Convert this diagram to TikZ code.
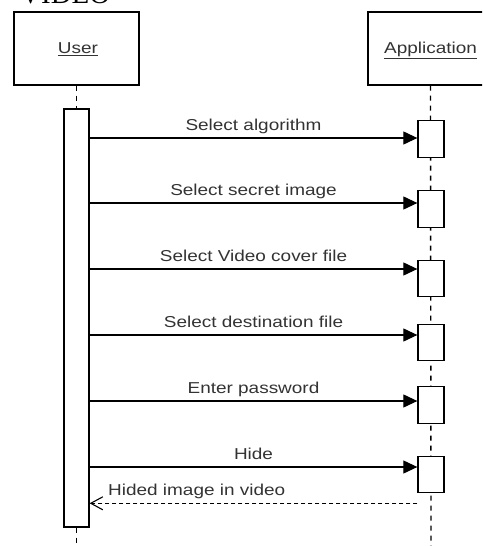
\documentclass[tikz,border=0pt]{standalone}
\usepackage{fontspec}
\usetikzlibrary{arrows.meta}
\newfontfamily\lblfont[FakeStretch=1.2]{Liberation Sans}
\newfontfamily\ttlfont{Liberation Serif}
\begin{document}
\begin{tikzpicture}[x=1pt,y=-1pt,
  box/.style={draw, line width=1.3pt, fill=white, inner sep=0pt},
  lifeline/.style={line width=1.4pt, dash pattern=on 5pt off 5pt},
  msg/.style={line width=1.1pt, -{Triangle[length=14pt,width=13pt]}},
  ret/.style={line width=1.1pt, dash pattern=on 4pt off 3pt, -{Straight Barb[length=12pt,width=13pt,line width=1.1pt]}},
  lbl/.style={font=\lblfont\fontsize{15.8}{18}\selectfont, text=black!80, inner sep=0pt, anchor=base}]
\useasboundingbox (0,0) rectangle (482,546);
\clip (0,0) rectangle (482,546);
\node[anchor=base west, inner sep=0pt, font=\ttlfont\fontsize{29}{30}\selectfont] (title) at (20,3.5) {VIDEO};
% participants
\node[box, minimum width=125pt, minimum height=73pt] (user) at (76.5,48.5) {};
\node[box, minimum width=125pt, minimum height=73pt] (app) at (430.5,48.5) {};
\node[lbl] (userlbl) at (78,53.3) {\underline{User}};
\node[lbl] (applbl) at (430.5,53.3) {\underline{Application}};
\coordinate (uend) at (76.5,546);
\coordinate (aend) at (431,546);
% lifelines
\draw[lifeline] (app.south) -- (aend);
\node[box, minimum width=25pt, minimum height=418pt] (uact) at (76.5,318) {};
\draw[lifeline] (user.south) -- (uact.north);
\draw[lifeline] (uact.south) -- (uend);
% activations
\node[box, minimum width=26pt, minimum height=36.5pt] (a1) at (431,139) {};
\node[box, minimum width=26pt, minimum height=36.5pt] (a2) at (431,209) {};
\node[box, minimum width=26pt, minimum height=36.5pt] (a3) at (431,278.5) {};
\node[box, minimum width=26pt, minimum height=36.5pt] (a4) at (431,342.5) {};
\node[box, minimum width=26pt, minimum height=36.5pt] (a5) at (431,405) {};
\node[box, minimum width=26pt, minimum height=36.5pt] (a6) at (431,474.5) {};
% message rows
\coordinate (m1) at (0,138);
\coordinate (m2) at (0,203);
\coordinate (m3) at (0,269);
\coordinate (m4) at (0,335);
\coordinate (m5) at (0,401);
\coordinate (m6) at (0,467);
\coordinate (m7) at (0,503.3);
\draw[msg] (uact.east |- m1) -- (a1.west |- m1) node[lbl, midway, yshift=7.5pt] (l1) {Select algorithm};
\draw[msg] (uact.east |- m2) -- (a2.west |- m2) node[lbl, midway, yshift=7.5pt] (l2) {Select secret image};
\draw[msg] (uact.east |- m3) -- (a3.west |- m3) node[lbl, midway, yshift=7.5pt] (l3) {Select Video cover file};
\draw[msg] (uact.east |- m4) -- (a4.west |- m4) node[lbl, midway, yshift=7.5pt] (l4) {Select destination file};
\draw[msg] (uact.east |- m5) -- (a5.west |- m5) node[lbl, midway, yshift=7.5pt] (l5) {Enter password};
\draw[msg] (uact.east |- m6) -- (a6.west |- m6) node[lbl, midway, yshift=7.5pt] (l6) {Hide};
\draw[ret] (a6.west |- m7) -- (uact.east |- m7);
\node[lbl, anchor=base west] (l7) at (108,495.5) {Hided image in video};
\end{tikzpicture}
\end{document}
